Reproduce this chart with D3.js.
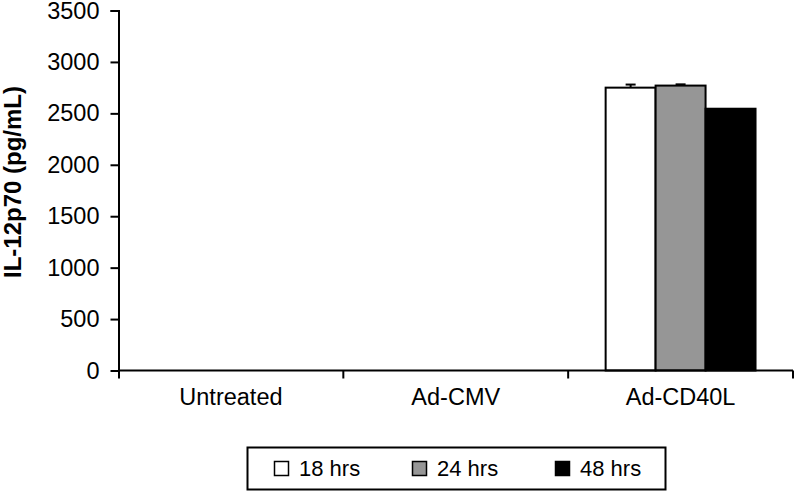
<!DOCTYPE html>
<html>
<head>
<meta charset="utf-8">
<script src="https://cdn.jsdelivr.net/npm/d3@7"></script>
<style>
  body { margin: 0; background: #fff; }
  text { font-family: "Liberation Sans", Arial, sans-serif; fill: #000; }
</style>
</head>
<body>
<div id="chart"></div>
<script>
// data
var groups = ["Untreated", "Ad-CMV", "Ad-CD40L"];
var series = ["18 hrs", "24 hrs", "48 hrs"];
var colors = ["#ffffff", "#969696", "#000000"];
var values = [
    [0, 0, 2750],   // 18 hrs
    [0, 0, 2770],   // 24 hrs
    [0, 0, 2545]    // 48 hrs
];
var errors = [
    [0, 0, 30],
    [0, 0, 12],
    [0, 0, 0]
];
var yTicks = [0, 500, 1000, 1500, 2000, 2500, 3000, 3500];

var svgWidth = 795, svgHeight = 491;
var margin = { top: 10.5, left: 118.5, right: 2, bottom: 120.5 };
var width = 793 - margin.left;
var height = 370.5 - margin.top;

var svg = d3.select("#chart")
    .append("svg")
    .attr("width", svgWidth)
    .attr("height", svgHeight);

var g = svg.append("g")
    .attr("transform", `translate(${margin.left}, ${margin.top})`);

var xScale = d3.scaleBand()
    .domain(groups)
    .range([0, width]);

var xInner = d3.scaleBand()
    .domain(series)
    .range([0, xScale.bandwidth()])
    .paddingOuter(0.75)
    .paddingInner(0);

var yScale = d3.scaleLinear()
    .domain([0, 3500])
    .range([height, 0]);

// y axis
var yAxis = d3.axisLeft(yScale)
    .tickValues(yTicks)
    .tickFormat(d3.format("d"))
    .tickSize(8)
    .tickPadding(11);

var yG = g.append("g").call(yAxis);
yG.select(".domain").attr("d", `M-8,0.5H0.5V${height + 8}`).attr("stroke-width", 2);
yG.selectAll(".tick line").attr("stroke-width", 2);
yG.selectAll("text").style("font-size", "23.5px");

// bars
series.forEach(function(s, si) {
    groups.forEach(function(grp, gi) {
        var v = values[si][gi];
        if (v <= 0) return;
        var x = xScale(grp) + xInner(s);
        g.append("rect")
            .attr("x", x)
            .attr("y", yScale(v))
            .attr("width", xInner.bandwidth())
            .attr("height", height - yScale(v))
            .attr("fill", colors[si])
            .attr("stroke", "#000")
            .attr("stroke-width", 2);
        var e = errors[si][gi];
        if (e > 0) {
            var cx = x + xInner.bandwidth() / 2;
            g.append("line")
                .attr("x1", cx).attr("x2", cx)
                .attr("y1", yScale(v)).attr("y2", yScale(v + e))
                .attr("stroke", "#000").attr("stroke-width", 2);
            g.append("line")
                .attr("x1", cx - 5).attr("x2", cx + 5)
                .attr("y1", yScale(v + e)).attr("y2", yScale(v + e))
                .attr("stroke", "#000").attr("stroke-width", 2);
        }
    });
});

// x axis
var xAxis = d3.axisBottom(xScale).tickSize(0).tickPadding(18);
var xG = g.append("g")
    .attr("transform", `translate(0, ${height})`)
    .call(xAxis);
xG.select(".domain").attr("d", `M0,0H${width}`).attr("stroke-width", 2);
xG.selectAll("text").style("font-size", "23.5px");

// category separators
var bounds = groups.map(d => xScale(d) + xScale.bandwidth());
g.selectAll(".sep")
    .data(bounds)
    .enter()
    .append("line")
    .attr("x1", d => d).attr("x2", d => d)
    .attr("y1", height).attr("y2", height + 8)
    .attr("stroke", "#000")
    .attr("stroke-width", 2);

// y title
svg.append("text")
    .attr("transform", "translate(21, 182) rotate(-90)")
    .style("text-anchor", "middle")
    .style("font-weight", "bold")
    .style("font-size", "24px")
    .text("IL-12p70 (pg/mL)");

// legend
var legend = svg.append("g");
legend.append("rect")
    .attr("x", 247.5).attr("y", 447.5)
    .attr("width", 418).attr("height", 42)
    .attr("fill", "#fff")
    .attr("stroke", "#000")
    .attr("stroke-width", 2);

var legX = [274, 412, 555];
series.forEach(function(s, i) {
    legend.append("rect")
        .attr("x", legX[i] + 0.5).attr("y", 461.5)
        .attr("width", 14).attr("height", 14)
        .attr("fill", colors[i])
        .attr("stroke", "#000")
        .attr("stroke-width", 1.5);
    legend.append("text")
        .attr("x", legX[i] + 25)
        .attr("y", 476)
        .style("font-size", "22px")
        .text(s);
});
</script>
</body>
</html>
